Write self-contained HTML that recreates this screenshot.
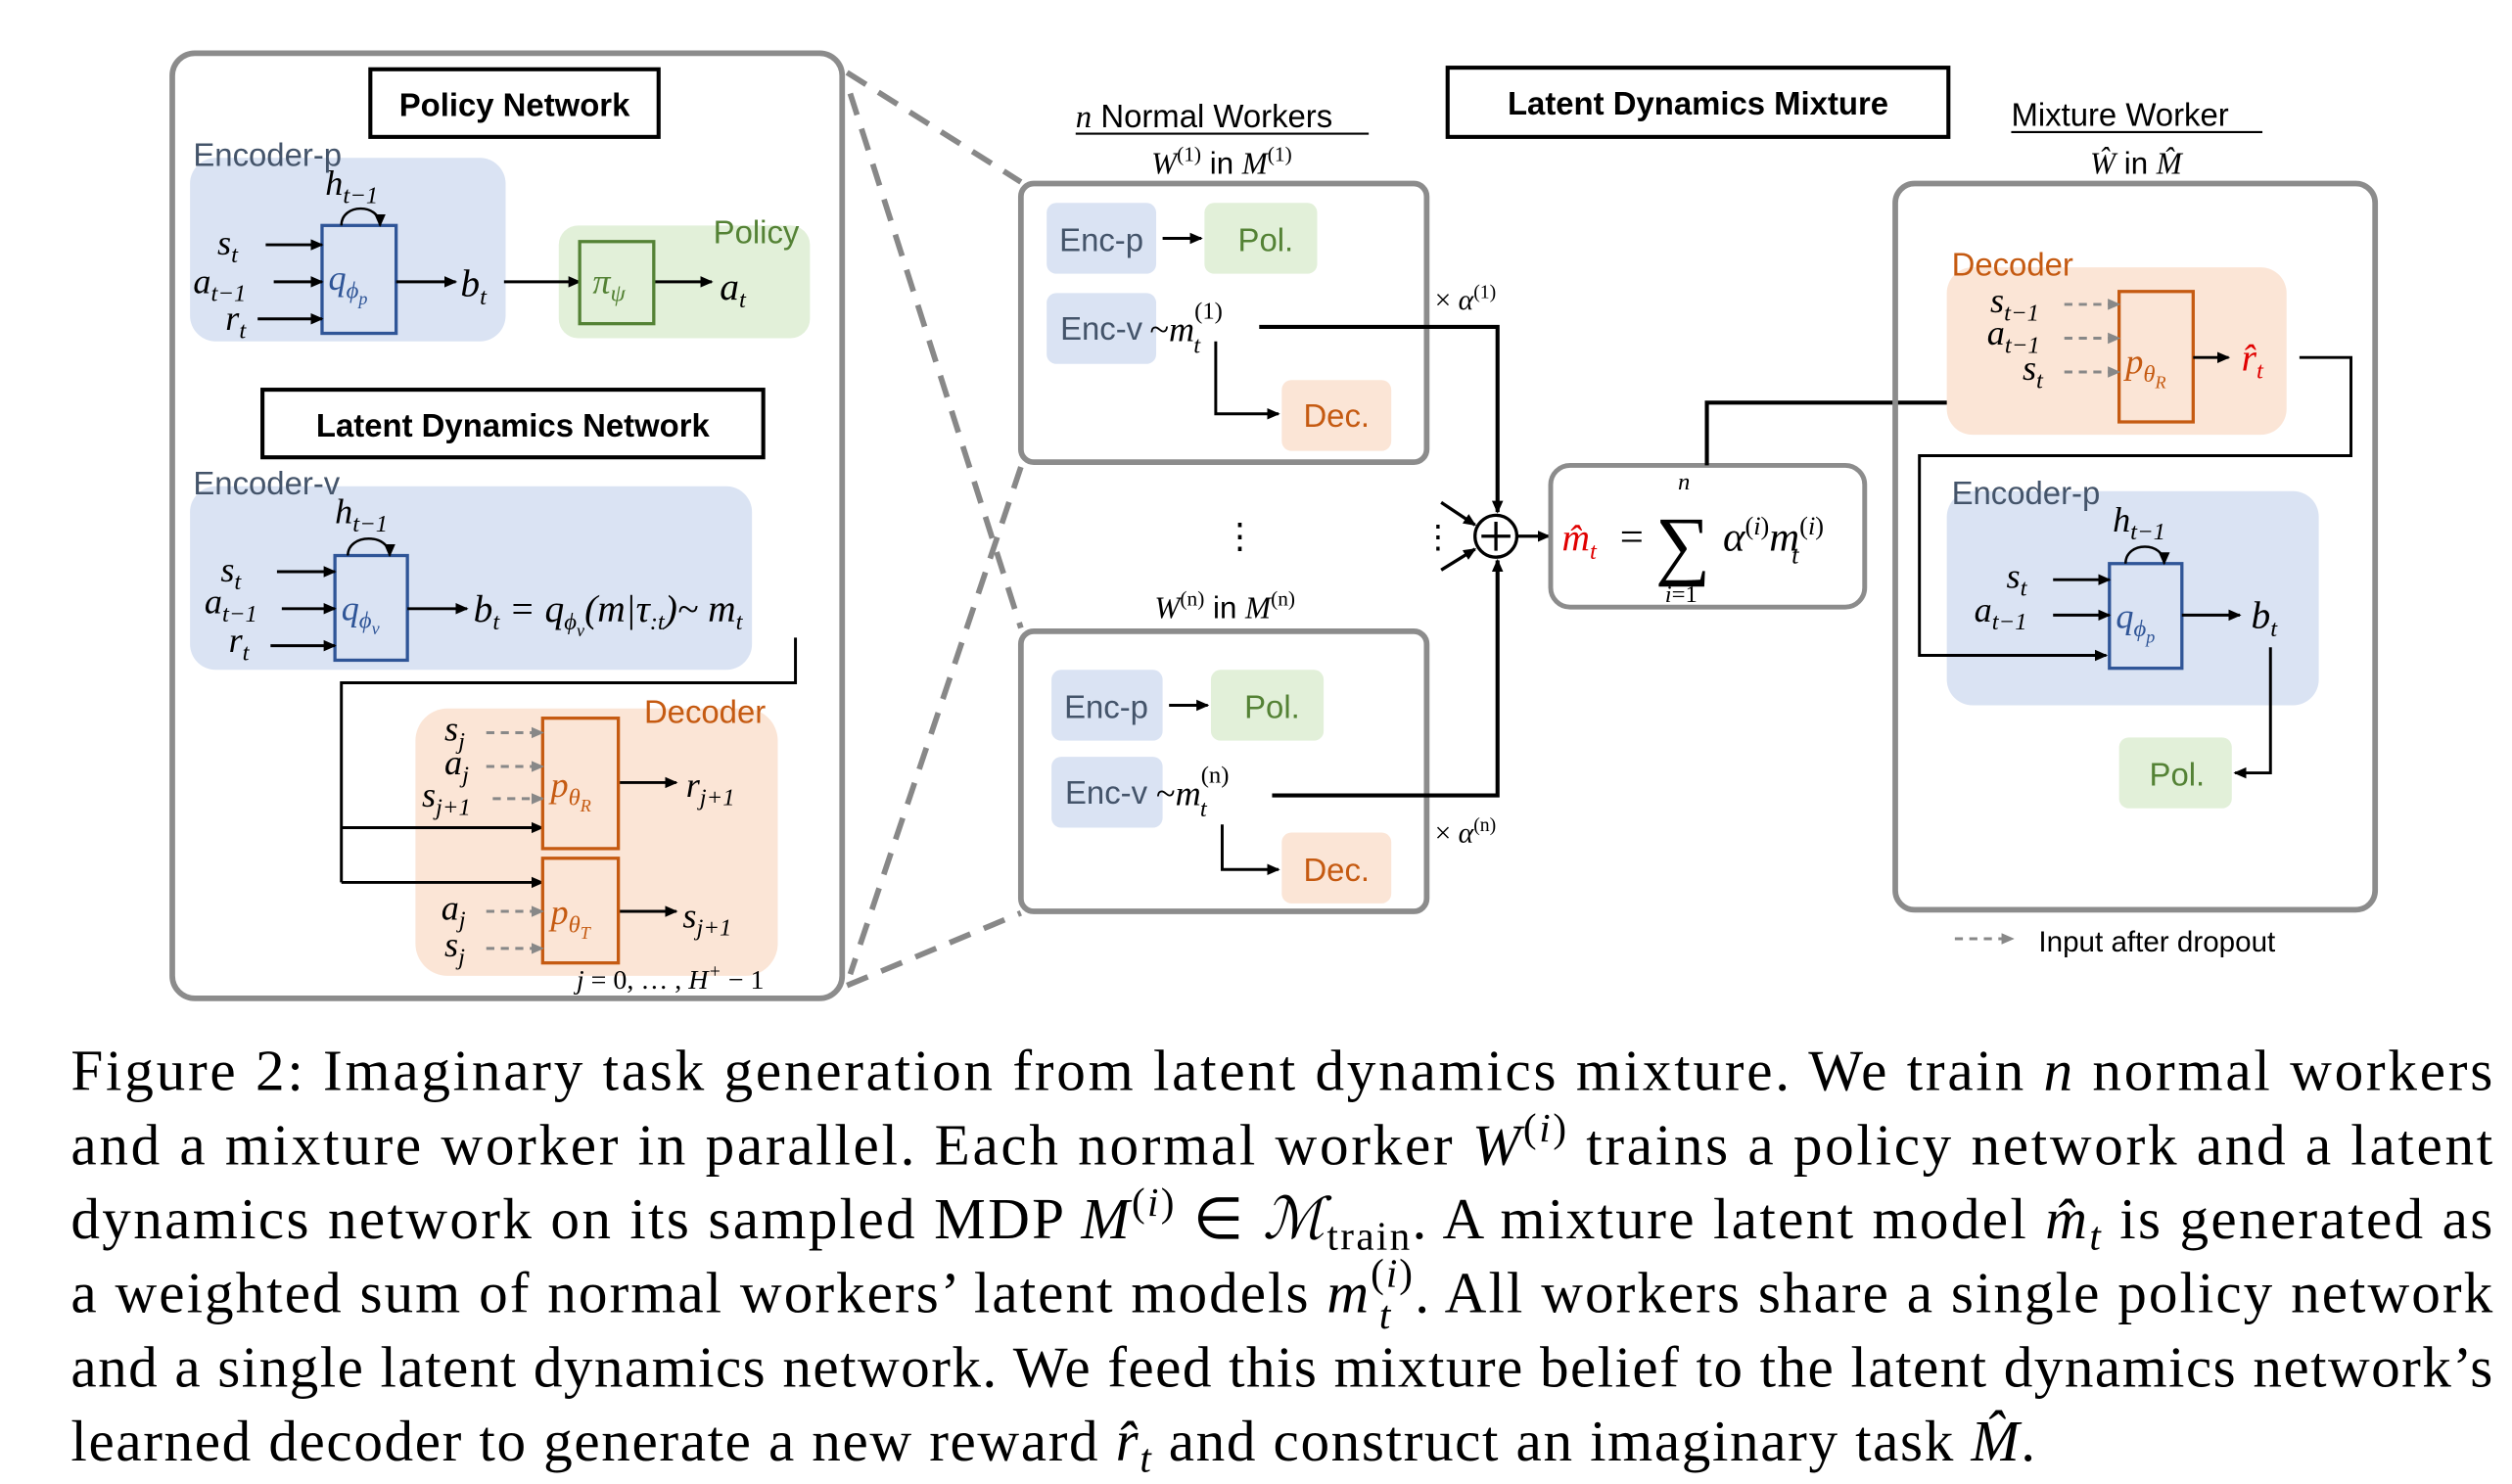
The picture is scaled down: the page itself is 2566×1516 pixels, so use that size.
<!DOCTYPE html>
<html><head><meta charset="utf-8"><style>
html,body{margin:0;padding:0;background:#fff}
svg{display:block}
.s{font-family:"Liberation Sans",sans-serif}
.m{font-family:"Liberation Serif",serif;font-style:italic}
.c{font-family:"Liberation Serif",serif;font-size:36px}
</style></head><body>
<svg width="2566" height="1516" viewBox="0 0 1560 921.6" xmlns="http://www.w3.org/2000/svg">
<defs>
<marker id="a" markerWidth="8" markerHeight="8" refX="7" refY="4" orient="auto" markerUnits="userSpaceOnUse"><path d="M0,0.5 L8,4 L0,7.5 Z" fill="#000"/></marker>
<marker id="g" markerWidth="8" markerHeight="8" refX="7" refY="4" orient="auto" markerUnits="userSpaceOnUse"><path d="M0,0.5 L8,4 L0,7.5 Z" fill="#888"/></marker>
</defs>
<rect width="1560" height="922" fill="#fff"/>
<g stroke="#888" stroke-width="3.5" stroke-dasharray="14,9" fill="none">
<line x1="526" y1="45" x2="634" y2="113"/>
<line x1="528" y1="58" x2="634" y2="390"/>
<line x1="634" y1="290" x2="528" y2="605"/>
<line x1="526" y1="612" x2="634" y2="567"/>
</g>
<!-- left panel -->
<rect x="107" y="33" width="416" height="587" rx="14" fill="none" stroke="#8c8c8c" stroke-width="3.5"/>
<rect x="230" y="43" width="179" height="42" fill="#fff" stroke="#000" stroke-width="2.5"/>
<text x="319.5" y="72" class="s" font-size="20" font-weight="bold" text-anchor="middle">Policy Network</text>
<rect x="118" y="98" width="196" height="114" rx="16" fill="#dae3f3"/>
<text x="120" y="103" class="s" font-size="20" fill="#44546a">Encoder-p</text>
<rect x="347" y="140" width="156" height="70" rx="12" fill="#e2f0d9"/>
<text x="443" y="151" class="s" font-size="20" fill="#548235">Policy</text>
<rect x="200" y="140" width="46" height="67" fill="#dae3f3" stroke="#2f5597" stroke-width="2"/>
<text x="204" y="180" class="m" font-size="22" fill="#2f5597">q<tspan font-size="15" dy="5">ϕ</tspan><tspan font-size="11" dy="4">p</tspan></text>
<path d="M212,140 C212,126 236,126 236,140" fill="none" stroke="#000" stroke-width="1.5" marker-end="url(#a)"/>
<text x="202" y="121" class="m" font-size="22">h<tspan font-size="15" dy="5">t−1</tspan></text>
<text x="135" y="158" class="m" font-size="22">s<tspan font-size="15" dy="5">t</tspan></text>
<text x="120" y="182" class="m" font-size="22">a<tspan font-size="15" dy="5">t−1</tspan></text>
<text x="140" y="205" class="m" font-size="22">r<tspan font-size="15" dy="5">t</tspan></text>
<g stroke="#000" stroke-width="1.8" marker-end="url(#a)">
<line x1="165" y1="152" x2="200" y2="152"/><line x1="170" y1="175" x2="200" y2="175"/><line x1="160" y1="198" x2="200" y2="198"/>
<line x1="246" y1="175" x2="283" y2="175"/><line x1="313" y1="175" x2="360" y2="175"/><line x1="406" y1="175" x2="442" y2="175"/>
</g>
<text x="286" y="184" class="m" font-size="24">b<tspan font-size="15" dy="5">t</tspan></text>
<rect x="360" y="150" width="46" height="51" fill="#e2f0d9" stroke="#548235" stroke-width="2"/>
<text x="368" y="182" class="m" font-size="22" fill="#548235">π<tspan font-size="15" dy="5">ψ</tspan></text>
<text x="447" y="186" class="m" font-size="24">a<tspan font-size="15" dy="5">t</tspan></text>

<rect x="163" y="242" width="311" height="42" fill="#fff" stroke="#000" stroke-width="2.5"/>
<text x="318.5" y="271" class="s" font-size="20" font-weight="bold" text-anchor="middle">Latent Dynamics Network</text>
<rect x="118" y="302" width="349" height="114" rx="16" fill="#dae3f3"/>
<text x="120" y="307" class="s" font-size="20" fill="#44546a">Encoder-v</text>
<rect x="208" y="345" width="45" height="65" fill="#dae3f3" stroke="#2f5597" stroke-width="2"/>
<text x="212" y="385" class="m" font-size="22" fill="#2f5597">q<tspan font-size="15" dy="5">ϕ</tspan><tspan font-size="11" dy="4">v</tspan></text>
<path d="M216,345 C216,331 242,331 242,345" fill="none" stroke="#000" stroke-width="1.5" marker-end="url(#a)"/>
<text x="208" y="325" class="m" font-size="22">h<tspan font-size="15" dy="5">t−1</tspan></text>
<text x="137" y="361" class="m" font-size="22">s<tspan font-size="15" dy="5">t</tspan></text>
<text x="127" y="381" class="m" font-size="22">a<tspan font-size="15" dy="5">t−1</tspan></text>
<text x="142" y="405" class="m" font-size="22">r<tspan font-size="15" dy="5">t</tspan></text>
<g stroke="#000" stroke-width="1.8" marker-end="url(#a)">
<line x1="172" y1="355" x2="208" y2="355"/><line x1="175" y1="378" x2="208" y2="378"/><line x1="168" y1="401" x2="208" y2="401"/>
<line x1="253" y1="378" x2="290" y2="378"/>
</g>
<text x="294" y="386" class="m" font-size="24">b<tspan font-size="15" dy="5">t</tspan><tspan dy="-5"> = q</tspan><tspan font-size="15" dy="5">ϕ</tspan><tspan font-size="11" dy="4">v</tspan><tspan dy="-9">(m|τ</tspan><tspan font-size="15" dy="5">:t</tspan><tspan dy="-5">)~ m</tspan><tspan font-size="15" dy="5">t</tspan></text>
<rect x="258" y="440" width="225" height="166" rx="20" fill="#fbe5d6"/>
<text x="400" y="449" class="s" font-size="20" fill="#c55a11">Decoder</text>
<polyline points="494,396 494,424 212,424 212,548" fill="none" stroke="#000" stroke-width="1.8"/>
<g stroke="#000" stroke-width="1.8" marker-end="url(#a)">
<line x1="212" y1="514" x2="337" y2="514"/><line x1="212" y1="548" x2="337" y2="548"/>
<line x1="384" y1="486" x2="420" y2="486"/><line x1="384" y1="566" x2="420" y2="566"/>
</g>
<rect x="337" y="446" width="47" height="81" fill="#fbe5d6" stroke="#c55a11" stroke-width="2"/>
<rect x="337" y="533" width="47" height="65" fill="#fbe5d6" stroke="#c55a11" stroke-width="2"/>
<text x="342" y="495" class="m" font-size="22" fill="#c55a11">p<tspan font-size="15" dy="5">θ</tspan><tspan font-size="11" dy="4">R</tspan></text>
<text x="342" y="574" class="m" font-size="22" fill="#c55a11">p<tspan font-size="15" dy="5">θ</tspan><tspan font-size="11" dy="4">T</tspan></text>
<g stroke="#888" stroke-width="1.8" stroke-dasharray="5,4" marker-end="url(#g)">
<line x1="302" y1="455" x2="337" y2="455"/><line x1="302" y1="476" x2="337" y2="476"/><line x1="306" y1="496" x2="337" y2="496"/>
<line x1="302" y1="566" x2="337" y2="566"/><line x1="302" y1="589" x2="337" y2="589"/>
</g>
<text x="276" y="460" class="m" font-size="22">s<tspan font-size="15" dy="5">j</tspan></text>
<text x="276" y="481" class="m" font-size="22">a<tspan font-size="15" dy="5">j</tspan></text>
<text x="262" y="501" class="m" font-size="22">s<tspan font-size="15" dy="5">j+1</tspan></text>
<text x="426" y="495" class="m" font-size="22">r<tspan font-size="15" dy="5">j+1</tspan></text>
<text x="274" y="571" class="m" font-size="22">a<tspan font-size="15" dy="5">j</tspan></text>
<text x="276" y="594" class="m" font-size="22">s<tspan font-size="15" dy="5">j</tspan></text>
<text x="424" y="576" class="m" font-size="22">s<tspan font-size="15" dy="5">j+1</tspan></text>
<text x="358" y="614" class="m" font-size="17">j <tspan font-style="normal">= 0, … , </tspan>H<tspan font-size="12" dy="-7">+</tspan><tspan dy="7" font-style="normal"> − 1</tspan></text>

<!-- middle -->
<text x="668" y="79" class="s" font-size="20"><tspan class="m">n</tspan> Normal Workers</text>
<line x1="668" y1="83" x2="850" y2="83" stroke="#000" stroke-width="1.3"/>
<text x="715" y="108" class="m" font-size="19">W<tspan font-size="13" dy="-8" font-style="normal">(1)</tspan><tspan dy="8" class="s" font-style="normal"> in </tspan>M<tspan font-size="13" dy="-8" font-style="normal">(1)</tspan></text>
<rect x="634" y="114" width="252" height="173" rx="8" fill="none" stroke="#8c8c8c" stroke-width="3.5"/>
<rect x="650" y="126" width="68" height="44" rx="6" fill="#dae3f3"/><text x="684" y="156" class="s" font-size="20" fill="#44546a" text-anchor="middle">Enc-p</text>
<rect x="748" y="126" width="70" height="44" rx="6" fill="#e2f0d9"/><text x="786" y="156" class="s" font-size="20" fill="#548235" text-anchor="middle">Pol.</text>
<line x1="722" y1="148" x2="746" y2="148" stroke="#000" stroke-width="1.8" marker-end="url(#a)"/>
<rect x="650" y="182" width="68" height="44" rx="6" fill="#dae3f3"/><text x="684" y="211" class="s" font-size="20" fill="#44546a" text-anchor="middle">Enc-v</text>
<text x="714" y="212" class="m" font-size="22"><tspan font-style="normal">~</tspan>m<tspan font-size="15" dy="-14" font-style="normal">(1)</tspan><tspan font-size="15" dx="-18" dy="21">t</tspan></text>
<rect x="796" y="236" width="68" height="44" rx="6" fill="#fbe5d6"/><text x="830" y="265" class="s" font-size="20" fill="#c55a11" text-anchor="middle">Dec.</text>
<polyline points="755,212 755,257 794,257" fill="none" stroke="#000" stroke-width="1.8" marker-end="url(#a)"/>
<polyline points="782,203 930,203 930,318" fill="none" stroke="#000" stroke-width="2.5" marker-end="url(#a)"/>
<text x="891" y="192" class="m" font-size="18"><tspan font-style="normal">× </tspan>α<tspan font-size="12" dy="-7" font-style="normal">(1)</tspan></text>
<text x="770" y="340" class="s" font-size="22" text-anchor="middle">⋮</text>
<text x="717" y="384" class="m" font-size="19">W<tspan font-size="13" dy="-8" font-style="normal">(n)</tspan><tspan dy="8" class="s" font-style="normal"> in </tspan>M<tspan font-size="13" dy="-8" font-style="normal">(n)</tspan></text>
<rect x="634" y="392" width="252" height="174" rx="8" fill="none" stroke="#8c8c8c" stroke-width="3.5"/>
<rect x="653" y="416" width="69" height="44" rx="6" fill="#dae3f3"/><text x="687" y="446" class="s" font-size="20" fill="#44546a" text-anchor="middle">Enc-p</text>
<rect x="752" y="416" width="70" height="44" rx="6" fill="#e2f0d9"/><text x="790" y="446" class="s" font-size="20" fill="#548235" text-anchor="middle">Pol.</text>
<line x1="726" y1="438" x2="750" y2="438" stroke="#000" stroke-width="1.8" marker-end="url(#a)"/>
<rect x="653" y="470" width="69" height="44" rx="6" fill="#dae3f3"/><text x="687" y="499" class="s" font-size="20" fill="#44546a" text-anchor="middle">Enc-v</text>
<text x="718" y="500" class="m" font-size="22"><tspan font-style="normal">~</tspan>m<tspan font-size="15" dy="-14" font-style="normal">(n)</tspan><tspan font-size="15" dx="-18" dy="21">t</tspan></text>
<rect x="796" y="517" width="68" height="44" rx="6" fill="#fbe5d6"/><text x="830" y="547" class="s" font-size="20" fill="#c55a11" text-anchor="middle">Dec.</text>
<polyline points="759,512 759,540 794,540" fill="none" stroke="#000" stroke-width="1.8" marker-end="url(#a)"/>
<polyline points="790,494 930,494 930,348" fill="none" stroke="#000" stroke-width="2.5" marker-end="url(#a)"/>
<text x="891" y="523" class="m" font-size="18"><tspan font-style="normal">× </tspan>α<tspan font-size="12" dy="-7" font-style="normal">(n)</tspan></text>
<circle cx="929" cy="333" r="13" fill="#fff" stroke="#000" stroke-width="2"/>
<path d="M920,333 H938 M929,324 V342" stroke="#000" stroke-width="2"/>
<g stroke="#000" stroke-width="2" marker-end="url(#a)">
<line x1="895" y1="312" x2="916" y2="326"/><line x1="895" y1="354" x2="916" y2="341"/>
<line x1="942" y1="333" x2="962" y2="333"/>
</g>
<text x="893" y="340" class="s" font-size="20" text-anchor="middle">⋮</text>

<rect x="899" y="42" width="311" height="43" fill="#fff" stroke="#000" stroke-width="2.5"/>
<text x="1054.5" y="71" class="s" font-size="20" font-weight="bold" text-anchor="middle">Latent Dynamics Mixture</text>
<rect x="963" y="289" width="195" height="88" rx="12" fill="#fff" stroke="#8c8c8c" stroke-width="3"/>
<text x="970" y="342" class="m" font-size="24" fill="#e00000">m̂<tspan font-size="15" dy="5">t</tspan></text>
<text x="1006" y="342" class="m" font-size="26"><tspan font-style="normal">=</tspan></text>
<text x="1028" y="354" font-family="Liberation Serif,serif" font-size="48">∑</text>
<text x="1042" y="304" class="m" font-size="15">n</text>
<text x="1034" y="374" class="m" font-size="15">i<tspan font-style="normal">=1</tspan></text>
<text x="1070" y="342" class="m" font-size="26">α<tspan font-size="16" dy="-10" font-style="normal">(</tspan><tspan font-size="16">i</tspan><tspan font-size="16" font-style="normal">)</tspan><tspan dy="10">m</tspan><tspan font-size="16" dy="-10" font-style="normal">(</tspan><tspan font-size="16">i</tspan><tspan font-size="16" font-style="normal">)</tspan><tspan font-size="16" dx="-20" dy="18">t</tspan></text>
<polyline points="1060,289 1060,250 1313,250" fill="none" stroke="#000" stroke-width="2.5" marker-end="url(#a)"/>

<!-- right -->
<text x="1249" y="78" class="s" font-size="20">Mixture Worker</text>
<line x1="1249" y1="82" x2="1405" y2="82" stroke="#000" stroke-width="1.3"/>
<text x="1298" y="108" class="m" font-size="19">Ŵ<tspan class="s" font-style="normal"> in </tspan>M̂</text>
<rect x="1177" y="114" width="298" height="451" rx="12" fill="none" stroke="#8c8c8c" stroke-width="3.5"/>
<rect x="1209" y="166" width="211" height="104" rx="16" fill="#fbe5d6"/>
<text x="1212" y="171" class="s" font-size="20" fill="#c55a11">Decoder</text>
<rect x="1316" y="181" width="46" height="81" fill="#fbe5d6" stroke="#c55a11" stroke-width="2"/>
<text x="1320" y="232" class="m" font-size="22" fill="#c55a11">p<tspan font-size="15" dy="5">θ</tspan><tspan font-size="11" dy="4">R</tspan></text>
<g stroke="#888" stroke-width="1.8" stroke-dasharray="5,4" marker-end="url(#g)">
<line x1="1282" y1="189" x2="1316" y2="189"/><line x1="1282" y1="210" x2="1316" y2="210"/><line x1="1282" y1="231" x2="1316" y2="231"/>
</g>
<text x="1236" y="194" class="m" font-size="22">s<tspan font-size="15" dy="5">t−1</tspan></text>
<text x="1234" y="214" class="m" font-size="22">a<tspan font-size="15" dy="5">t−1</tspan></text>
<text x="1256" y="236" class="m" font-size="22">s<tspan font-size="15" dy="5">t</tspan></text>
<line x1="1362" y1="222" x2="1384" y2="222" stroke="#000" stroke-width="1.8" marker-end="url(#a)"/>
<text x="1392" y="230" class="m" font-size="24" fill="#e00000">r̂<tspan font-size="15" dy="5">t</tspan></text>
<rect x="1209" y="305" width="231" height="133" rx="16" fill="#dae3f3"/>
<text x="1212" y="313" class="s" font-size="20" fill="#44546a">Encoder-p</text>
<polyline points="1428,222 1460,222 1460,283 1192,283 1192,407 1308,407" fill="none" stroke="#000" stroke-width="1.8" marker-end="url(#a)"/>
<rect x="1310" y="350" width="45" height="65" fill="#dae3f3" stroke="#2f5597" stroke-width="2"/>
<text x="1314" y="390" class="m" font-size="22" fill="#2f5597">q<tspan font-size="15" dy="5">ϕ</tspan><tspan font-size="11" dy="4">p</tspan></text>
<path d="M1320,350 C1320,336 1344,336 1344,350" fill="none" stroke="#000" stroke-width="1.5" marker-end="url(#a)"/>
<text x="1312" y="330" class="m" font-size="22">h<tspan font-size="15" dy="5">t−1</tspan></text>
<text x="1246" y="365" class="m" font-size="22">s<tspan font-size="15" dy="5">t</tspan></text>
<text x="1226" y="386" class="m" font-size="22">a<tspan font-size="15" dy="5">t−1</tspan></text>
<g stroke="#000" stroke-width="1.8" marker-end="url(#a)">
<line x1="1275" y1="360" x2="1310" y2="360"/><line x1="1275" y1="382" x2="1310" y2="382"/>
<line x1="1355" y1="382" x2="1391" y2="382"/>
</g>
<text x="1398" y="390" class="m" font-size="24">b<tspan font-size="15" dy="5">t</tspan></text>
<polyline points="1410,402 1410,480 1388,480" fill="none" stroke="#000" stroke-width="1.8" marker-end="url(#a)"/>
<rect x="1316" y="458" width="70" height="44" rx="6" fill="#e2f0d9"/><text x="1352" y="488" class="s" font-size="20" fill="#548235" text-anchor="middle">Pol.</text>
<line x1="1214" y1="583" x2="1250" y2="583" stroke="#888" stroke-width="1.8" stroke-dasharray="5,4" marker-end="url(#g)"/>
<text x="1266" y="591" class="s" font-size="18">Input after dropout</text>

<!-- caption -->
<g class="c">
<text x="44" y="677" textLength="1504" lengthAdjust="spacing">Figure 2: Imaginary task generation from latent dynamics mixture. We train <tspan font-style="italic">n</tspan> normal workers</text>
<text x="44" y="723" textLength="1504" lengthAdjust="spacing">and a mixture worker in parallel. Each normal worker <tspan font-style="italic">W</tspan><tspan font-size="25" dy="-14">(<tspan font-style="italic">i</tspan>)</tspan><tspan dy="14"> trains a policy network and a latent</tspan></text>
<text x="44" y="769" textLength="1504" lengthAdjust="spacing">dynamics network on its sampled MDP <tspan font-style="italic">M</tspan><tspan font-size="25" dy="-14">(<tspan font-style="italic">i</tspan>)</tspan><tspan dy="14"> ∈ </tspan><tspan font-style="italic">ℳ</tspan><tspan font-size="25" dy="7">train</tspan><tspan dy="-7">. A mixture latent model </tspan><tspan font-style="italic">m̂</tspan><tspan font-size="25" font-style="italic" dy="7">t</tspan><tspan dy="-7"> is generated as</tspan></text>
<text x="44" y="815" textLength="1504" lengthAdjust="spacing">a weighted sum of normal workers’ latent models <tspan font-style="italic">m</tspan><tspan font-size="25" dy="-16">(<tspan font-style="italic">i</tspan>)</tspan><tspan font-size="25" font-style="italic" dx="-22" dy="26">t</tspan><tspan dy="-10" dx="14">. All workers share a single policy network</tspan></text>
<text x="44" y="861" textLength="1504" lengthAdjust="spacing">and a single latent dynamics network. We feed this mixture belief to the latent dynamics network’s</text>
<text x="44" y="907" textLength="1220" lengthAdjust="spacing">learned decoder to generate a new reward <tspan font-style="italic">r̂</tspan><tspan font-size="25" font-style="italic" dy="7">t</tspan><tspan dy="-7"> and construct an imaginary task </tspan><tspan font-style="italic">M̂</tspan>.</text>
</g>
</svg>
</body></html>
